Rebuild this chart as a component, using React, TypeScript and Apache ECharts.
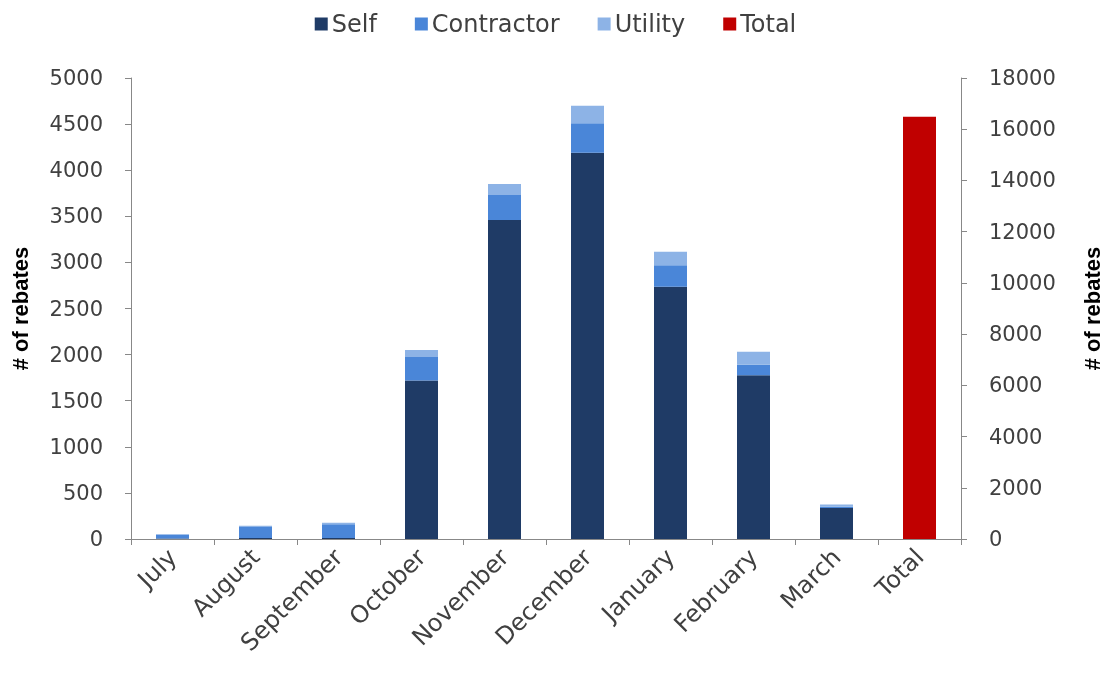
import React, { useEffect, useRef } from "react";
import * as echarts from "echarts";

const categories = ["July", "August", "September", "October", "November", "December", "January", "February", "March", "Total"];
const selfValues = [5, 10, 10, 1720, 3460, 4190, 2735, 1775, 335, null];
const contractorValues = [45, 120, 150, 255, 270, 320, 235, 115, 15, null];
const utilityValues = [0, 15, 15, 75, 120, 190, 145, 140, 25, null];
const totalValues = [null, null, null, null, null, null, null, null, null, 16490];
const leftTicks = { min: 0, max: 5000, interval: 500 };
const rightTicks = { min: 0, max: 18000, interval: 2000 };

const FONT = "DejaVu Sans";
const TXT = "#404040";
const AXIS = "#888888";

export default function App() {
  const ref = useRef<HTMLDivElement>(null);
  useEffect(() => {
    if (!ref.current) return;
    const chart = echarts.init(ref.current, undefined, { renderer: "svg" });
    const toData = (arr: (number | null)[]) => arr.map((v) => (v === null ? "-" : v));
    const plain = (v: number) => String(v);
    chart.setOption({
      animation: false,
      textStyle: { fontFamily: FONT },
      legend: {
        top: 7,
        left: "center",
        itemWidth: 13,
        itemHeight: 13,
        itemGap: 38,
        icon: "rect",
        textStyle: { fontFamily: FONT, fontSize: 24, color: TXT, padding: [0, 0, 0, -1] },
        data: ["Self", "Contractor", "Utility", "Total"],
      },
      grid: { left: 131, right: 141, top: 78, bottom: 137, containLabel: false },
      xAxis: {
        type: "category",
        data: categories,
        axisLine: { lineStyle: { color: AXIS, width: 1 } },
        axisTick: { show: true, length: 6, lineStyle: { color: AXIS } },
        axisLabel: { rotate: 45, fontSize: 24, color: TXT, fontFamily: FONT, margin: 14 },
      },
      yAxis: [
        {
          type: "value",
          ...leftTicks,
          name: "# of rebates",
          nameLocation: "middle",
          nameGap: 100,
          nameTextStyle: { fontFamily: "Liberation Sans", fontWeight: "bold", fontSize: 22, color: "#000" },
          axisLine: { show: true, lineStyle: { color: AXIS } },
          axisTick: { show: true, length: 6, lineStyle: { color: AXIS } },
          splitLine: { show: false },
          axisLabel: { fontSize: 21, color: TXT, fontFamily: FONT, margin: 28, formatter: plain },
        },
        {
          type: "value",
          ...rightTicks,
          position: "right",
          name: "# of rebates",
          nameLocation: "middle",
          nameGap: 120,
          nameRotate: 90,
          nameTextStyle: { fontFamily: "Liberation Sans", fontWeight: "bold", fontSize: 22, color: "#000" },
          axisLine: { show: true, lineStyle: { color: AXIS } },
          axisTick: { show: true, length: 6, lineStyle: { color: AXIS } },
          splitLine: { show: false },
          axisLabel: { fontSize: 21, color: TXT, fontFamily: FONT, margin: 28, formatter: plain },
        },
      ],
      series: [
        { name: "Self", type: "bar", stack: "m", yAxisIndex: 0, barWidth: 33, barGap: "-100%", data: toData(selfValues), itemStyle: { color: "#1F3B66" } },
        { name: "Contractor", type: "bar", stack: "m", yAxisIndex: 0, barWidth: 33, barGap: "-100%", data: toData(contractorValues), itemStyle: { color: "#4A86D8" } },
        { name: "Utility", type: "bar", stack: "m", yAxisIndex: 0, barWidth: 33, barGap: "-100%", data: toData(utilityValues), itemStyle: { color: "#8DB3E6" } },
        { name: "Total", type: "bar", yAxisIndex: 1, barWidth: 33, barGap: "-100%", data: toData(totalValues), itemStyle: { color: "#C00000" } },
      ],
    });
    return () => chart.dispose();
  }, []);
  return <div ref={ref} style={{ position: "fixed", left: 0, top: 0, width: 1111, height: 676 }} />;
}
